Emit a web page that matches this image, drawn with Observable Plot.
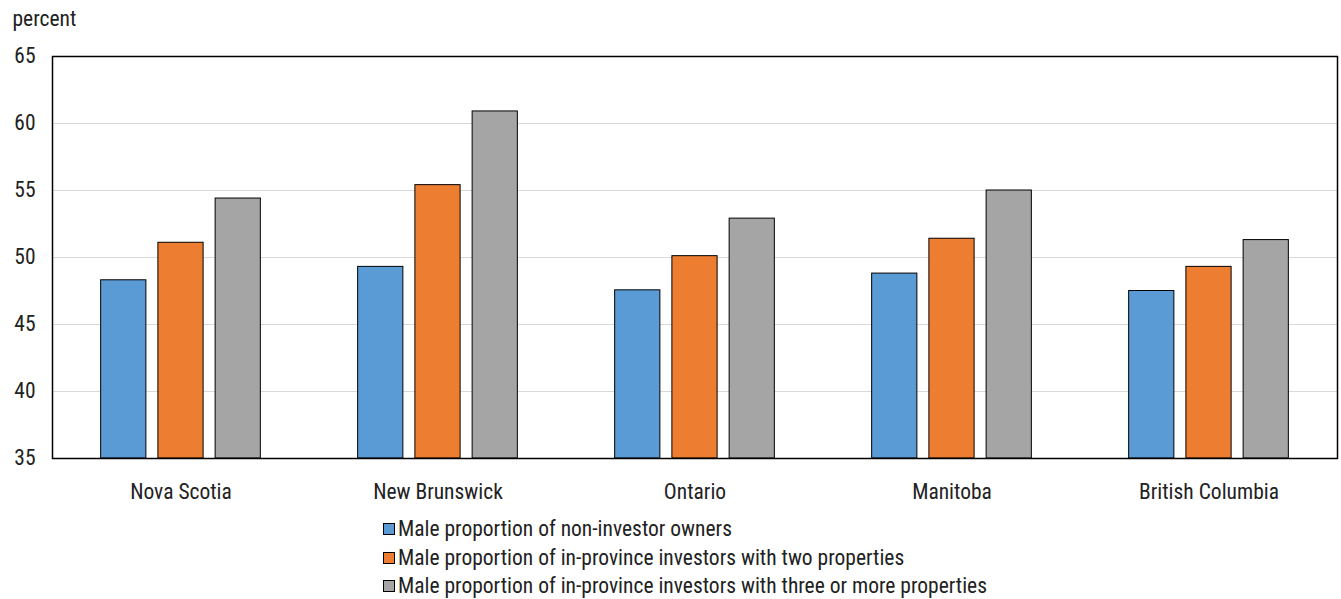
<!DOCTYPE html>
<html><head><meta charset="utf-8">
<script src="https://cdn.jsdelivr.net/npm/d3@7"></script>
<script src="https://cdn.jsdelivr.net/npm/@observablehq/plot@0.6"></script>
<style>
body{margin:0;background:#fff;font-family:"Liberation Sans Narrow","Arial Narrow","Roboto Condensed",sans-serif;color:#222;}
#legend{margin-left:383px;margin-top:5px;font-size:21.5px;}
#legend .row{height:28.5px;line-height:28.5px;display:flex;align-items:center;}
#legend .sw{width:10px;height:10px;border:1px solid #000;margin-right:3px;}
</style></head><body><div id="chart"></div><div id="legend"></div>
<script>
const provinces = ["Nova Scotia","New Brunswick","Ontario","Manitoba","British Columbia"];
const seriesNames = [
  "Male proportion of non-investor owners",
  "Male proportion of in-province investors with two properties",
  "Male proportion of in-province investors with three or more properties"
];
const seriesColors = ["#5b9bd5","#ed7d31","#a5a5a5"];
const nonInvestor = [48.3,49.3,47.55,48.8,47.5];
const twoProperties = [51.1,55.4,50.1,51.4,49.3];
const threePlus = [54.4,60.9,52.9,55.0,51.3];
const yTicks = [35,40,45,50,55,60,65];
const yUnit = "percent";

const seriesValues = [nonInvestor, twoProperties, threePlus];
const data = [];
provinces.forEach((p,i)=>seriesNames.forEach((s,j)=>data.push({province:p, series:s, value:seriesValues[j][i]})));

const font = '"Liberation Sans Narrow","Arial Narrow","Roboto Condensed",sans-serif';
const chart = Plot.plot({
  width:1341, height:510, marginTop:56, marginBottom:52, marginLeft:50, marginRight:2,
  style:{fontFamily:font, fontSize:"21.5px", color:"#222", background:"#fff"},
  fx:{domain:provinces, padding:0, axis:"bottom", label:null, tickSize:0, tickPadding:25},
  x:{domain:seriesNames, paddingInner:0.21, paddingOuter:0.85, round:false, axis:null},
  y:{domain:[yTicks[0], yTicks[yTicks.length-1]], ticks:yTicks, tickSize:0, tickPadding:17, label:null},
  color:{domain:seriesNames, range:seriesColors},
  marks:[
    Plot.gridY(yTicks, {stroke:"#d9d9d9", strokeOpacity:1}),
    Plot.barY(data, {fx:"province", x:"series", y1:yTicks[0], y2:"value", fill:"series", stroke:"#000", strokeWidth:1}),
    Plot.frame({facet:"super", stroke:"#000", strokeWidth:1.5}),
    Plot.text([yUnit], {facet:"super", text:d=>d, frameAnchor:"top-left", textAnchor:"start", lineAnchor:"middle", dx:-40, dy:-37, fill:"#222"})
  ]
});
document.getElementById("chart").appendChild(chart);

const lg = d3.select("#legend");
seriesNames.forEach((s,i)=>{
  const r = lg.append("div").attr("class","row");
  r.append("div").attr("class","sw").style("background", seriesColors[i]);
  r.append("span").text(s);
});
</script>
</body></html>
